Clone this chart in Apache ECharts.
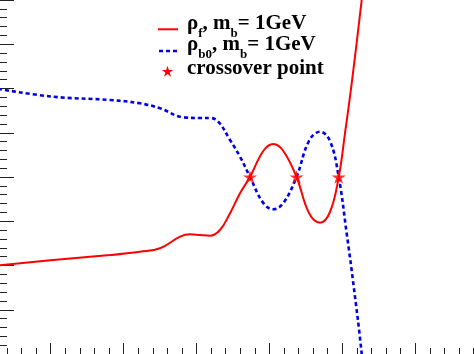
<!DOCTYPE html>
<html>
<head>
  <meta charset="utf-8">
  <title></title>
  <style>
    html, body { margin: 0; padding: 0; background: #fff; }
  </style>
</head>
<body>
  <div id="main" style="width: 474px;height:354px;"></div>
  <script src="https://cdn.jsdelivr.net/npm/echarts@6/dist/echarts.min.js"></script>
  <script>
    // rho_f, m_b = 1GeV (solid red)
    let fX = [0.28, 1.032, 1.813, 2.225, 2.499, 2.774, 2.911, 3.049, 3.185, 3.322, 3.460, 3.597, 3.734, 3.916, 4.053, 4.191, 4.372, 4.543, 4.694, 4.831, 4.951, 5.037, 5.129, 5.266, 5.325];
    let fY = [2.00, 2.124, 2.237, 2.312, 2.389, 2.651, 2.705, 2.689, 2.673, 2.802, 3.180, 3.632, 4.0, 4.588, 4.746, 4.588, 4.0, 3.186, 2.967, 3.209, 4.0, 4.988, 6.117, 8.0, 8.9];
    // rho_b0, m_b = 1GeV (dotted blue)
    let bX = [0.28, 1.032, 1.813, 2.225, 2.499, 2.819, 3.049, 3.185, 3.299, 3.460, 3.597, 3.734, 3.916, 4.053, 4.191, 4.372, 4.543, 4.694, 4.831, 4.951, 5.060, 5.151, 5.266, 5.298];
    let bY = [5.99, 5.815, 5.740, 5.665, 5.553, 5.349, 5.333, 5.333, 5.250, 4.836, 4.459, 4.0, 3.412, 3.270, 3.412, 4.0, 4.814, 5.024, 4.814, 4.0, 2.728, 1.598, 0, -0.81];
    // crossover points
    let crossX = [3.734, 4.372, 4.951];
    let crossY = [4, 4, 4];

    let zip = (xs, ys) => xs.map((x, i) => [x, ys[i]]);

    let star = 'path://M50,2 L61.23,36.55 L97.55,36.55 L68.17,57.9 L79.39,92.45 L50,71.1 L20.61,92.45 L31.83,57.9 L2.45,36.55 L38.77,36.55 Z';
    // star outline for the legend marker
    function starPoints(cx, cy, r) {
      let pts = [];
      for (let i = 0; i < 10; i++) {
        let a = (-90 + i * 36) * Math.PI / 180;
        let rr = i % 2 ? r * 0.382 : r;
        pts.push([cx + rr * Math.cos(a), cy + rr * Math.sin(a)]);
      }
      return pts;
    }
    let font = '"Liberation Serif", "Times New Roman", serif';
    let tickColor = '#222';

    let rich = {
      a: { fontFamily: font, fontWeight: 'bold', fontSize: 21, lineHeight: 22, verticalAlign: 'top', color: '#000' },
      s: { fontFamily: font, fontWeight: 'bold', fontSize: 13, lineHeight: 13, padding: [14, 0, 0, 0], verticalAlign: 'top', color: '#000' }
    };

    var myChart = echarts.init(document.getElementById('main'), null, { renderer: 'canvas' });

    option = {
      animation: false,
      backgroundColor: '#fff',
      // the frame runs past the picture edges, so let the grid go outside
      grid: { left: -22.2, right: -14.1, top: 0, bottom: 0, outerBoundsMode: 'none', containLabel: false },
      xAxis: {
        type: 'value', min: 0, max: 7, interval: 1,
        axisLine: { show: false },
        axisLabel: { show: false },
        splitLine: { show: false },
        axisTick: { show: true, inside: true, length: 11, lineStyle: { color: tickColor, width: 1 } },
        minorTick: { show: true, splitNumber: 5, length: 6, lineStyle: { color: tickColor, width: 1 } }
      },
      yAxis: {
        type: 'value', min: 0, max: 8, interval: 1, offset: -22.2,
        axisLine: { show: false },
        axisLabel: { show: false },
        splitLine: { show: false },
        axisTick: { show: true, inside: true, length: 14, lineStyle: { color: tickColor, width: 1 } },
        minorTick: { show: true, splitNumber: 5, length: 7, lineStyle: { color: tickColor, width: 1 } }
      },
      series: [
        {
          type: 'line', data: zip(fX, fY), smooth: 0.4, showSymbol: false, symbol: 'none',
          lineStyle: { color: '#f00', width: 2 }, z: 3
        },
        {
          type: 'line', data: zip(bX, bY), smooth: 0.4, showSymbol: false, symbol: 'none',
          lineStyle: { color: '#0000e6', width: 2.6, type: [4, 3] }, z: 2
        },
        {
          type: 'scatter', data: zip(crossX, crossY), symbol: star, symbolSize: 14, symbolKeepAspect: true,
          itemStyle: { color: '#f00' }, z: 4
        }
      ],
      graphic: [
        { type: 'line', shape: { x1: 158, y1: 29.3, x2: 178, y2: 29.3 }, style: { stroke: '#f00', lineWidth: 2 } },
        { type: 'line', shape: { x1: 159, y1: 51, x2: 178, y2: 51 }, style: { stroke: '#0000e6', lineWidth: 2.6, lineDash: [4, 3] } },
        { type: 'polygon', shape: { points: starPoints(167.5, 71.8, 6) }, style: { fill: '#f00' } },
        { type: 'text', x: 187, y: 13, style: { text: '{a|ρ}{s|f}{a|, m}{s|b}{a|= 1GeV}', rich: rich, verticalAlign: 'top' } },
        { type: 'text', x: 187, y: 34.5, style: { text: '{a|ρ}{s|b0}{a|, m}{s|b}{a|= 1GeV}', rich: rich, verticalAlign: 'top' } },
        { type: 'text', x: 187, y: 58, style: { text: '{a|crossover point}', rich: rich, verticalAlign: 'top' } }
      ]
    };

    myChart.setOption(option);
  </script>
</body>
</html>
